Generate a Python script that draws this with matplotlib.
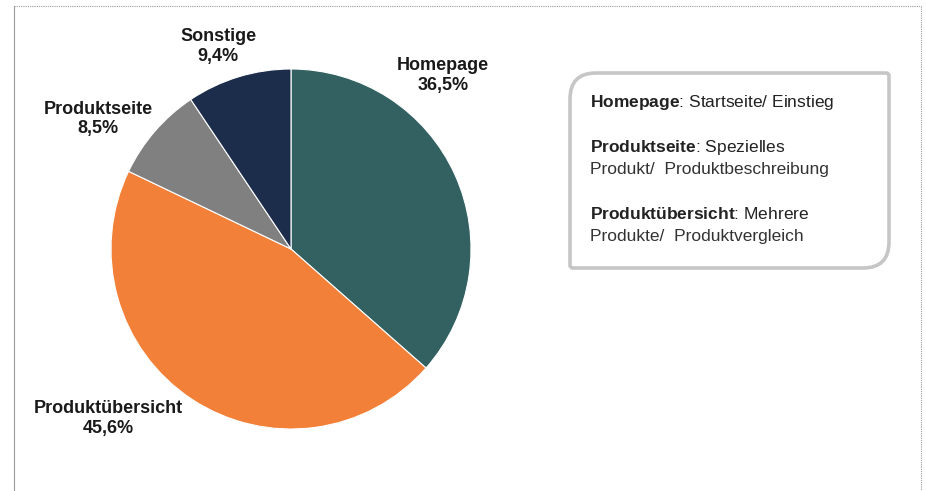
import matplotlib
matplotlib.use("Agg")
import matplotlib.pyplot as plt
from matplotlib.path import Path
from matplotlib.patches import PathPatch

plt.rcParams["font.family"] = ["Liberation Sans", "DejaVu Sans"]
plt.rcParams["mathtext.fontset"] = "custom"
plt.rcParams["mathtext.rm"] = "Liberation Sans"
plt.rcParams["mathtext.bf"] = "Liberation Sans:bold"

# %% Daten
kategorien = ["Homepage", "Produktübersicht", "Produktseite", "Sonstige"]
anteile = [36.5, 45.6, 8.5, 9.4]
farben = ["#336060", "#f28038", "#808080", "#1b2d4a"]
# Label-Positionen (in Pie-Radien, relativ zum Mittelpunkt)
label_pos = {
    "Homepage": (0.845, 0.965),
    "Produktübersicht": (-1.017, -0.942),
    "Produktseite": (-1.072, 0.722),
    "Sonstige": (-0.405, 1.125),
}
legende = [
    ("Homepage", ": Startseite/ Einstieg", None),
    ("Produktseite", ": Spezielles", "Produkt/  Produktbeschreibung"),
    ("Produktübersicht", ": Mehrere", "Produkte/  Produktvergleich"),
]

W, H = 926, 491
fig = plt.figure(figsize=(W / 100, H / 100), dpi=100)

# %% Kreisdiagramm
cx, cy, r = 291, 249, 180
ax = fig.add_axes([0, 0, 1, 1])
ax.pie(anteile, colors=farben, startangle=90, counterclock=False,
       wedgeprops=dict(edgecolor="white", linewidth=0.8))
ax.set_xlim(-cx / r, (W - cx) / r)
ax.set_ylim(-(H - cy) / r, cy / r)
ax.set_aspect("equal", adjustable="box")
ax.axis("off")

for name, wert in zip(kategorien, anteile):
    x, y = label_pos[name]
    txt = name + "\n" + f"{wert:.1f}".replace(".", ",") + "%"
    ax.text(x, y, txt, ha="center", va="center", fontsize=13,
            fontweight="bold", color="#1a1a1a", linespacing=1.2)

# %% Rahmen und Legende (Pixelkoordinaten)
ov = fig.add_axes([0, 0, 1, 1], zorder=3)
ov.set_xlim(0, W)
ov.set_ylim(H, 0)
ov.axis("off")

ov.plot([14, 921], [6, 6], color="#9a9a9a", lw=0.8, ls=(0, (1, 1)))
ov.plot([14, 14], [6, H], color="#9a9a9a", lw=0.8)
ov.plot([921, 921], [6, H], color="#9a9a9a", lw=0.8, ls=(0, (1, 1)))

# Box mit zwei abgerundeten Ecken (oben links, unten rechts)
x0, x1, y0, y1, rr, rs = 570, 889, 73, 268, 26, 3
verts = [
    (x0 + rr, y0), (x1 - rs, y0), (x1, y0), (x1, y0 + rs),
    (x1, y1 - rr), (x1, y1), (x1 - rr, y1),
    (x0 + rs, y1), (x0, y1), (x0, y1 - rs),
    (x0, y0 + rr), (x0, y0), (x0 + rr, y0),
]
codes = [Path.MOVETO, Path.LINETO, Path.CURVE3, Path.CURVE3,
         Path.LINETO, Path.CURVE3, Path.CURVE3,
         Path.LINETO, Path.CURVE3, Path.CURVE3,
         Path.LINETO, Path.CURVE3, Path.CURVE3]
ov.add_patch(PathPatch(Path(verts, codes), facecolor="white",
                       edgecolor="#c6c6c6", lw=2.6))

# Grundlinien der Textzeilen
zeilen_y = [107, 152, 174, 219, 241]
fs = 12.5
i = 0
for fett, rest, zweite in legende:
    ov.text(590, zeilen_y[i], r"$\mathbf{" + fett + "}$" + rest,
            fontsize=fs, va="baseline", ha="left", color="#222222")
    i += 1
    if zweite:
        ov.text(590, zeilen_y[i], zweite, fontsize=fs, va="baseline",
                ha="left", color="#333333")
        i += 1

plt.savefig("out.png", dpi=100)
